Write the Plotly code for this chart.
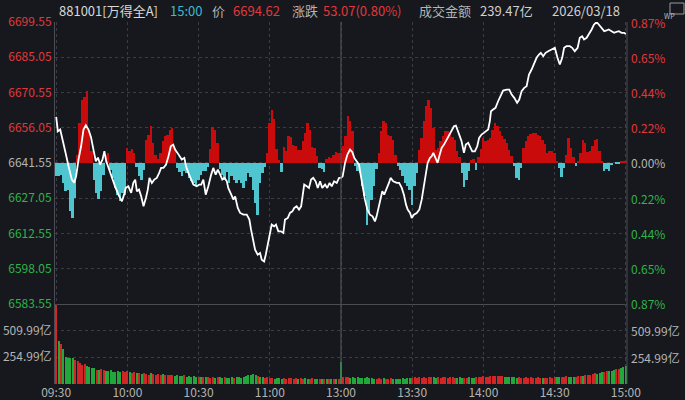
import plotly.graph_objects as go

# ---------------- data ----------------
PRE_CLOSE = 6641.55
price_ticks = [6583.55, 6598.05, 6612.55, 6627.05, 6641.55, 6656.05, 6670.55, 6685.05, 6699.55]
pct_labels = ["0.87%", "0.65%", "0.44%", "0.22%", "0.00%", "0.22%", "0.44%", "0.65%", "0.87%"]
vol_ticks = [254.99, 509.99]
vol_tick_labels = ["254.99亿", "509.99亿"]
vol_max = 764.98
time_ticks = [0, 30, 60, 90, 120, 150, 180, 210, 240]
time_labels = ["09:30", "10:00", "10:30", "11:00", "13:00", "13:30", "14:00", "14:30", "15:00"]

price_min = [
    0.0, 0.7, 1.7, 2.7, 3.8, 5.2, 6.6, 7.6, 8.4, 9.4,
    10.5, 11.5, 12.5, 13.6, 14.7, 15.7, 16.7, 17.6, 18.5, 19.5,
    20.3, 21.1, 22.0, 22.7, 23.7, 24.8, 26.2, 27.7, 28.6, 29.3,
    30.4, 31.6, 32.5, 33.3, 34.0, 34.9, 35.8, 36.8, 37.8, 38.6,
    39.3, 40.3, 41.3, 42.4, 43.4, 44.2, 45.2, 46.3, 47.3, 48.3,
    49.3, 50.1, 51.1, 52.2, 52.9, 54.0, 54.7, 55.7, 56.8, 57.8,
    59.2, 60.3, 61.1, 62.0, 63.0, 64.1, 65.3, 66.2, 67.2, 68.1,
    69.1, 70.0, 70.9, 71.9, 72.5, 73.7, 74.7, 75.4, 76.5, 77.5,
    78.9, 80.3, 81.4, 82.1, 83.1, 83.8, 84.9, 85.9, 86.6, 87.6,
    88.3, 89.1, 90.1, 90.8, 91.8, 92.6, 93.6, 94.7, 95.7, 96.4,
    97.6, 98.5, 99.5, 100.3, 101.3, 102.3, 103.2, 103.7, 104.5, 105.6,
    106.5, 107.4, 108.3, 109.3, 110.2, 111.2, 112.1, 113.3, 114.2, 115.2,
    116.1, 117.1, 118.2, 119.2, 120.0, 120.7, 121.7, 122.7, 123.8, 124.8,
    125.6, 126.6, 127.6, 128.4, 129.1, 130.1, 131.1, 132.2, 133.3, 134.3,
    135.0, 135.7, 136.4, 137.4, 138.2, 139.2, 140.2, 140.9, 142.0, 143.5,
    144.5, 145.6, 146.5, 147.4, 148.1, 149.1, 149.8, 150.7, 151.9, 153.0,
    154.0, 154.9, 155.8, 156.5, 157.5, 158.2, 158.9, 159.9, 160.7, 161.4,
    162.4, 163.4, 164.5, 165.6, 166.6, 167.6, 168.4, 169.1, 169.8, 170.8,
    171.8, 172.6, 173.6, 174.3, 175.3, 176.4, 177.4, 178.2, 179.2, 180.2,
    181.3, 182.0, 182.7, 183.2, 184.1, 185.1, 186.2, 187.4, 188.3, 189.8,
    190.9, 191.9, 193.0, 194.2, 195.1, 196.1, 197.2, 198.2, 199.2, 200.3,
    201.4, 202.4, 203.4, 204.2, 205.2, 206.2, 207.3, 208.7, 210.1, 211.2,
    212.2, 213.2, 214.0, 215.0, 216.4, 217.4, 218.5, 219.7, 220.6, 221.6,
    222.4, 223.5, 224.4, 225.6, 226.6, 227.7, 228.6, 229.8, 230.9, 231.9,
    232.8, 234.0, 235.1, 236.1, 237.1, 238.2, 239.3, 240.0,
]
price = [
    6660.50, 6654.57, 6655.27, 6650.45, 6646.33, 6640.15, 6634.67, 6633.43, 6636.03, 6642.91,
    6648.39, 6655.27, 6657.04, 6655.27, 6651.97, 6647.03, 6642.21, 6643.73, 6640.85, 6642.91,
    6646.33, 6642.21, 6639.49, 6638.09, 6634.67, 6631.91, 6628.49, 6625.73, 6628.49, 6631.25,
    6631.91, 6629.19, 6633.31, 6634.67, 6629.85, 6630.55, 6627.79, 6623.67, 6627.13, 6630.55,
    6635.37, 6633.31, 6634.67, 6635.37, 6637.43, 6639.49, 6639.49, 6640.85, 6644.27, 6648.39,
    6649.09, 6647.03, 6645.67, 6644.27, 6642.91, 6643.61, 6640.15, 6637.43, 6634.67, 6632.61,
    6631.91, 6632.61, 6632.61, 6634.67, 6628.49, 6631.91, 6636.73, 6639.49, 6636.73, 6638.79,
    6636.73, 6634.67, 6635.37, 6633.97, 6631.25, 6628.49, 6626.43, 6627.79, 6623.01, 6620.95,
    6620.25, 6620.25, 6618.19, 6614.07, 6609.95, 6605.83, 6603.77, 6604.47, 6601.71, 6601.01,
    6603.77, 6607.89, 6612.71, 6616.13, 6615.43, 6616.13, 6613.37, 6613.37, 6612.71, 6618.19,
    6618.89, 6620.95, 6621.61, 6623.01, 6623.67, 6622.31, 6623.67, 6627.13, 6632.61, 6631.91,
    6631.25, 6634.67, 6635.37, 6633.97, 6631.25, 6633.97, 6631.25, 6632.61, 6631.25, 6633.31,
    6631.91, 6633.97, 6633.31, 6635.37, 6635.37, 6636.03, 6641.55, 6644.97, 6647.03, 6645.92,
    6643.61, 6642.21, 6640.85, 6636.03, 6631.91, 6626.43, 6622.31, 6620.25, 6619.55, 6617.49,
    6619.55, 6623.01, 6626.43, 6629.85, 6628.49, 6630.55, 6633.31, 6635.37, 6633.97, 6633.31,
    6633.31, 6631.25, 6628.49, 6624.37, 6622.31, 6620.95, 6618.89, 6620.25, 6620.95, 6622.31,
    6626.43, 6631.91, 6636.73, 6641.55, 6643.61, 6644.27, 6645.67, 6642.91, 6641.55, 6644.27,
    6647.73, 6649.09, 6651.15, 6653.21, 6655.27, 6656.63, 6656.92, 6654.57, 6653.21, 6650.45,
    6645.67, 6649.09, 6649.79, 6648.39, 6646.33, 6646.33, 6648.39, 6651.85, 6653.21, 6653.91,
    6654.57, 6655.27, 6658.69, 6662.81, 6663.51, 6664.21, 6666.93, 6669.69, 6671.34, 6671.75,
    6671.75, 6669.69, 6668.33, 6666.27, 6667.63, 6671.05, 6672.45, 6673.11, 6677.93, 6679.99,
    6682.75, 6684.81, 6686.17, 6686.87, 6685.47, 6686.87, 6687.53, 6688.23, 6688.93, 6684.81,
    6682.05, 6684.81, 6688.93, 6689.59, 6689.59, 6688.93, 6687.53, 6688.93, 6693.05, 6693.71,
    6692.35, 6693.05, 6694.41, 6696.47, 6698.53, 6699.50, 6698.53, 6697.17, 6695.77, 6696.06,
    6696.47, 6695.77, 6695.11, 6695.52, 6695.77, 6695.11, 6695.11, 6694.62,
]

# per-minute strength bars (red above / cyan below the previous-close line)
strength = [
    -13, -13, -12, -20, -28, -27, -48, -55, -35, 8,
    40, 63, 66, 72, 32, 12, -17, -30, -36, -28,
    -12, 8, 10, -7, -15, -25, -32, -38, -30, -32,
    15, 12, 14, 10, -4, -13, -17, -7, 23, 28,
    37, 20, 8, 4, 10, 22, 27, 28, 33, 35,
    15, -5, -9, -13, -8, -10, -15, -18, -20, -23,
    -17, -12, -8, -8, -4, 14, 36, 33, 20, -6,
    -12, -17, -9, -20, -13, -17, -20, -17, -20, -25,
    -18, -10, -14, -27, -40, -52, -20, -10, -4, 10,
    40, 53, 44, 14, 3, -9, 16, 12, 27, 26,
    18, 17, 13, 13, 22, 30, 40, 33, 16, 15,
    7, -5, -6, -9, 4, 6, 5, 8, 11, 10,
    10, 17, 27, 47, 42, 32, -3, -8, -10, -23,
    -33, -62, -50, -37, -23, -6, 10, 32, 42, 40,
    28, 27, 23, 8, -3, -7, -13, -20, -23, -27,
    -42, -23, -10, 13, 25, 42, 57, 63, 55, 35,
    13, 15, 22, 27, 32, 32, 30, 26, 23, 12,
    6, -10, -24, -17, -8, 3, 4, -7, 6, 14,
    25, 22, 23, 25, 33, 40, 37, 32, 27, 24,
    20, 13, 7, -3, -15, -17, -5, 15, 22, 27,
    29, 30, 30, 28, 27, 23, 19, 10, 12, 12,
    10, 1, -5, -14, -5, 8, 25, 15, 6, -3,
    2, 10, 23, 20, 11, 12, 17, 23, 24, 12,
    2, -8, -6, -8, -2, 0, -1, -1, 2, 2,
    2,
]
STRENGTH_SCALE = 58.0 / 141.0  # strength units -> index points

# per-minute turnover (亿元)
volume = [
    760, 410, 380, 335, 256, 252, 246, 248, 228, 220,
    198, 184, 196, 172, 168, 158, 150, 140, 138, 141,
    136, 130, 124, 133, 120, 118, 122, 112, 126, 118,
    128, 112, 106, 116, 104, 110, 98, 106, 100, 92,
    104, 96, 90, 98, 88, 94, 86, 92, 84, 90,
    82, 88, 80, 76, 84, 72, 78, 70, 74, 68,
    72, 66, 70, 64, 68, 62, 70, 60, 66, 64,
    58, 66, 62, 60, 68, 58, 64, 70, 62, 66,
    74, 86, 92, 100, 88, 78, 70, 66, 60, 64,
    58, 62, 54, 60, 56, 52, 58, 54, 62, 56,
    52, 58, 50, 56, 54, 60, 52, 48, 56, 50,
    54, 48, 52, 50, 46, 54, 48, 52, 46, 50,
    212, 72, 66, 70, 58, 64, 60, 68, 56, 62,
    58, 64, 56, 60, 54, 50, 56, 52, 58, 54,
    50, 56, 52, 48, 54, 50, 58, 52, 56, 60,
    62, 66, 58, 64, 60, 68, 62, 66, 70, 64,
    60, 66, 62, 68, 64, 60, 66, 70, 62, 58,
    64, 60, 56, 62, 66, 58, 60, 64, 68, 70,
    74, 72, 68, 80, 76, 82, 78, 74, 80, 72,
    68, 64, 70, 66, 60, 64, 58, 62, 66, 60,
    64, 58, 62, 66, 60, 56, 62, 58, 64, 60,
    66, 72, 70, 64, 68, 74, 70, 66, 72, 68,
    76, 82, 78, 86, 92, 88, 96, 104, 100, 110,
    118, 112, 124, 130, 126, 138, 142, 148, 150, 160,
    178,
]
volume_dir = (
    "RGRGGGGGRR" "RRRGGGGRGR" "RGGGGGGGRR" "RGRRGRGRRR" "GRRRRGRRRR"
    "GGGGRGGGGG" "RGRGRRRGRG" "GRGGGRGGGG" "GGGGGRGGRR" "RRGGGGRRRR"
    "RRGRRGGRRG" "GRGRGRGRGR" "GRRRGGGGGG" "GGGGGRRRGR" "RRGGGGGGGG"
    "RRRRRRRRRG" "GRRRRRRRRG" "GGRRGGGRRR" "RRRRRRRRRG" "GGGGGRRRRR"
    "RRRRRGRRRR" "RGGRRRGGGR" "RRGRRRRRGG" "GRRGGGRRGG" "G"
)
minutes = list(range(len(volume)))
assert len(price_min) == len(price)
assert len(strength) == len(volume) == len(volume_dir)

# ---------------- style ----------------
BG = "#16181d"
GRID = "#3a3d44"
AXIS = "#4a4d55"
RED_TXT = "#e0383c"
GRN_TXT = "#2fb34a"
GRAY_TXT = "#b4b4b4"
BAR_RED = "#c90b0b"
BAR_CYAN = "#4fc6cf"
VOL_RED = "#d22626"
VOL_GRN = "#22a83a"
FONT = "Noto Sans CJK SC, Noto Sans, sans-serif"

L, R, T, B = 55, 58, 22, 16
W, H = 685, 400
PW, PH = W - L - R, H - T - B
split = (H - B - 303.8) / PH  # price panel starts here (paper fraction)

def tick_color(p):
    if p > PRE_CLOSE + 1e-6:
        return RED_TXT
    if p < PRE_CLOSE - 1e-6:
        return GRN_TXT
    return GRAY_TXT

fig = go.Figure()

fig.add_trace(go.Bar(
    x=minutes, y=[v * STRENGTH_SCALE for v in strength], base=PRE_CLOSE,
    marker=dict(color=[BAR_RED if v >= 0 else BAR_CYAN for v in strength], line=dict(width=0)),
    width=0.8, xaxis="x", yaxis="y", hoverinfo="skip", showlegend=False,
))
fig.add_trace(go.Scatter(
    x=price_min, y=price, mode="lines", line=dict(color="#ffffff", width=1.8),
    xaxis="x", yaxis="y", showlegend=False,
))
fig.add_trace(go.Bar(
    x=minutes, y=volume,
    marker=dict(color=[VOL_RED if c == "R" else VOL_GRN for c in volume_dir], line=dict(width=0)),
    width=0.45, xaxis="x2", yaxis="y3", showlegend=False,
))

xr = [-0.5, 240.5]
fig.update_layout(
    width=W, height=H, margin=dict(l=L, r=R, t=T, b=B, autoexpand=False),
    paper_bgcolor=BG, plot_bgcolor=BG, bargap=0,
    font=dict(family=FONT, size=12, color=GRAY_TXT),
    xaxis=dict(domain=[0, 1], anchor="y", range=xr, tickvals=time_ticks, showticklabels=False,
               showgrid=True, gridcolor=GRID, griddash="dot", gridwidth=1, zeroline=False,
               showline=True, linecolor=AXIS, linewidth=1, ticks="", automargin=False),
    yaxis=dict(domain=[split, 1], anchor="x", range=[price_ticks[0], price_ticks[-1]],
               tickvals=price_ticks,
               ticktext=[f'<span style="color:{tick_color(p)}">{p:.2f}</span>' for p in price_ticks],
               showgrid=True, gridcolor=GRID, griddash="dot", zeroline=False,
               showline=True, linecolor=AXIS, ticks="", tickfont=dict(size=12), automargin=False),
    xaxis2=dict(domain=[0, 1], anchor="y3", range=xr, tickvals=time_ticks, ticktext=time_labels,
                showgrid=True, gridcolor=GRID, griddash="dot", zeroline=False, ticks="",
                tickfont=dict(size=12, color=GRAY_TXT), showline=False, automargin=False),
    yaxis3=dict(domain=[0, split], anchor="x2", range=[0, vol_max], tickvals=vol_ticks,
                ticktext=vol_tick_labels, showgrid=True, gridcolor=GRID, griddash="dot",
                zeroline=False, showline=True, linecolor=AXIS, ticks="",
                tickfont=dict(size=12, color=GRAY_TXT), automargin=False),
)

# right-edge frame line and noon divider
fig.add_shape(type="line", xref="paper", yref="paper", x0=1, x1=1, y0=0, y1=1,
              line=dict(color=AXIS, width=1))
fig.add_shape(type="line", xref="x", yref="paper", x0=120, x1=120, y0=0, y1=1,
              line=dict(color="#55585f", width=1))

# right-side percent labels
for p, lab in zip(price_ticks, pct_labels):
    fig.add_annotation(xref="paper", yref="y", x=1, y=p, text=lab, showarrow=False,
                       xanchor="left", xshift=2, font=dict(size=12, color=tick_color(p)))
for v, lab in zip(vol_ticks, vol_tick_labels):
    fig.add_annotation(xref="paper", yref="y3", x=1, y=v, text=lab, showarrow=False,
                       xanchor="left", xshift=2, font=dict(size=12, color=GRAY_TXT))

# header line
def px(xpix):
    return (xpix - L) / PW

header = [
    (57, "881001[万得全A]", "#d8d8d8"),
    (168, "15:00", "#3fb8d2"),
    (210, "价", GRAY_TXT),
    (231, "6694.62", RED_TXT),
    (290, "涨跌", GRAY_TXT),
    (321, "53.07(0.80%)", RED_TXT),
    (417, "成交金额", GRAY_TXT),
    (478, "239.47亿", "#d0d0d0"),
    (550, "2026/03/18", "#d0d0d0"),
]
hy = 1 + (T - 10) / PH
for xp, txt, col in header:
    fig.add_annotation(xref="paper", yref="paper", x=px(xp), y=hy, text=txt, showarrow=False,
                       xanchor="left", yanchor="middle", font=dict(size=13, color=col))

# small logo box at top right
fig.add_shape(type="rect", xref="paper", yref="paper", x0=px(670), x1=px(684),
              y0=1 + (T - 14) / PH, y1=1 + (T - 3) / PH, line=dict(color="#9a9a9a", width=1))
fig.add_annotation(xref="paper", yref="paper", x=px(677), y=1 + (T - 8.5) / PH, text="WP",
                   showarrow=False, font=dict(size=7, color="#bbbbbb"))

fig.write_html(
    "out.html",
    config={"displayModeBar": False},
    post_script="document.body.style.margin='0';document.body.style.background='" + BG + "';",
)
